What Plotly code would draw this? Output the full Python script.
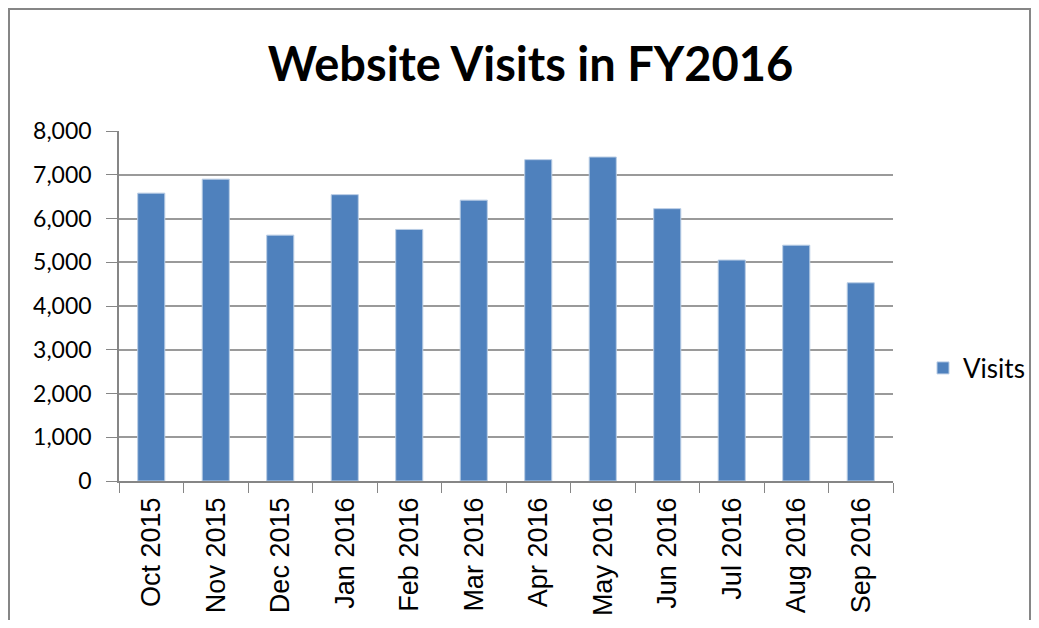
import plotly.graph_objects as go

months = ["Oct 2015", "Nov 2015", "Dec 2015", "Jan 2016", "Feb 2016", "Mar 2016",
          "Apr 2016", "May 2016", "Jun 2016", "Jul 2016", "Aug 2016", "Sep 2016"]
visits = [6580, 6900, 5620, 6545, 5750, 6420, 7345, 7405, 6225, 5050, 5390, 4530]

OFF = 8  # page body margin
W, H = 1039 - 2 * OFF, 628 - 2 * OFF
L, T = 119 - OFF, 131 - OFF
R = (OFF + W) - 893
B = (OFF + H) - 481
pw, ph = W - L - R, H - T - B

def px(xs):
    return (xs - OFF - L) / pw

def py(ys):
    return (H - B - (ys - OFF)) / ph

fig = go.Figure()
fig.add_trace(go.Bar(
    x=months, y=visits, name="Visits",
    marker=dict(color="#4F81BD", line=dict(color="#B9CDE5", width=1)),
))

fig.update_layout(
    width=W, height=H,
    margin=dict(l=L, r=R, t=T, b=B, autoexpand=False),
    paper_bgcolor="white", plot_bgcolor="white",
    bargap=0.58,
    title=dict(text="<b>Website Visits in FY2016</b>",
               x=(530.5 - OFF) / W, xanchor="center",
               y=1 - (65 - OFF) / H, yanchor="middle",
               font=dict(family="Lato, Liberation Sans, sans-serif", size=47, color="black")),
    showlegend=True,
    legend=dict(x=px(923), y=py(368), xanchor="left", yanchor="middle",
                font=dict(family="Lato, Liberation Sans, sans-serif", size=26, color="black"),
                itemwidth=30, bgcolor="rgba(0,0,0,0)"),
    xaxis=dict(
        showline=True, linecolor="#868686", linewidth=1.5, automargin=False,
        ticks="outside", tickson="boundaries", ticklen=10, tickcolor="#868686",
        tickangle=-90, ticklabelstandoff=4,
        tickfont=dict(family="Liberation Sans, Arial, sans-serif", size=27, color="black"),
        showgrid=False,
    ),
    yaxis=dict(
        range=[0, 8000], dtick=1000, tickformat=",", automargin=False,
        showline=True, linecolor="#868686", linewidth=1.5,
        ticks="outside", ticklen=11, tickcolor="#868686",
        ticklabelstandoff=10,
        gridcolor="#9a9a9a", gridwidth=1.5,
        tickfont=dict(family="Lato, Liberation Sans, sans-serif", size=23, color="black"),
        zeroline=False,
    ),
    shapes=[dict(type="rect", xref="paper", yref="paper",
                 x0=px(9), x1=px(1030), y0=py(660), y1=py(9),
                 line=dict(color="#868686", width=2), fillcolor="rgba(0,0,0,0)",
                 layer="below")],
)

fig.write_html("out.html")
